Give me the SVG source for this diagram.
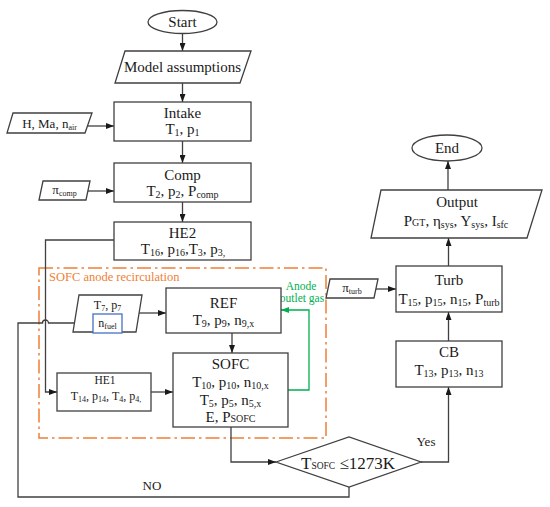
<svg xmlns="http://www.w3.org/2000/svg" width="550" height="507" viewBox="0 0 550 507">
<defs>
<style>
text{font-family:'Liberation Serif','Times New Roman',Tinos,'DejaVu Serif','Noto Serif',serif}
.t{fill:#1a1a1a;text-anchor:middle}
.f15{font-size:15px}
.f13{font-size:13px}
.f12{font-size:12px}
.s10{font-size:10px}
.s8{font-size:8px}
.box{fill:#fff;stroke:#404040;stroke-width:1.3}
.ln{fill:none;stroke:#404040;stroke-width:1.3}
.gr{fill:none;stroke:#00B050;stroke-width:1.3}
</style>
<marker id="ar" viewBox="0 0 8 6" refX="8" refY="3" markerWidth="8" markerHeight="6" markerUnits="userSpaceOnUse" orient="auto"><path d="M0,0 L8,3 L0,6 Z" fill="#1a1a1a"/></marker>
<marker id="ag" viewBox="0 0 8 6" refX="8" refY="3" markerWidth="8" markerHeight="6" markerUnits="userSpaceOnUse" orient="auto"><path d="M0,0 L8,3 L0,6 Z" fill="#00B050"/></marker>
</defs>
<rect width="550" height="507" fill="#fff"/>

<g id="recirc">
<rect x="39" y="268" width="287" height="170" fill="none" stroke="#F07F35" stroke-width="1.5" stroke-dasharray="14 4 2.5 4"/>
<text x="49" y="281" font-size="12.5" fill="#F07F35">SOFC anode recirculation</text>
</g>

<g id="connectors">
<path class="ln" d="M182.5,33.5 V51" marker-end="url(#ar)"/>
<path class="ln" d="M182.5,83 V102" marker-end="url(#ar)"/>
<path class="ln" d="M182.5,141 V163" marker-end="url(#ar)"/>
<path class="ln" d="M182.5,202 V222" marker-end="url(#ar)"/>
<path class="ln" d="M88,126 H114" marker-end="url(#ar)"/>
<path class="ln" d="M88,191 H114" marker-end="url(#ar)"/>
<path class="ln" d="M114,240 H45.5 V392 H57" marker-end="url(#ar)"/>
<path class="ln" d="M139,313 H166" marker-end="url(#ar)"/>
<path class="ln" d="M232,333 V353" marker-end="url(#ar)"/>
<path class="ln" d="M151,392 H173" marker-end="url(#ar)"/>
<path class="gr" d="M288,390 H309 V310 H281" marker-end="url(#ag)"/>
<path class="ln" d="M231,427 V462 H276" marker-end="url(#ar)"/>
<path class="ln" d="M421,462 H448.5 V387" marker-end="url(#ar)"/>
<path class="ln" d="M448.5,341 V312" marker-end="url(#ar)"/>
<path class="ln" d="M375,289 H396" marker-end="url(#ar)"/>
<path class="ln" d="M448.5,266 V238" marker-end="url(#ar)"/>
<path class="ln" d="M448,190 V161" marker-end="url(#ar)"/>
<path class="ln" d="M349,487 V497 H18 V323 H42.5 A3,3 0 0 1 48.5,323 H93" marker-end="url(#ar)"/>
<text class="t f13" x="152" y="490">NO</text>
<text class="t f13" x="426" y="446">Yes</text>
<text x="301" y="290" font-size="11.5" fill="#00B050" text-anchor="middle">Anode</text>
<text x="302" y="302" font-size="11.5" fill="#00B050" text-anchor="middle">outlet gas</text>
</g>

<g id="start">
<ellipse cx="182.5" cy="22" rx="34.5" ry="11.5" class="box"/>
<text class="t f15" x="182.5" y="27">Start</text>
</g>

<g id="model">
<polygon class="box" points="125,51 251,51 240,83 115,83"/>
<text class="t f15" x="182.5" y="72">Model assumptions</text>
</g>

<g id="intake">
<rect class="box" x="114" y="102" width="137" height="39"/>
<text class="t f15" x="182.5" y="118">Intake</text>
<text class="t f15" x="182.5" y="134">T<tspan class="s10" dy="2">1</tspan><tspan dy="-2">, p</tspan><tspan class="s10" dy="2">1</tspan></text>
</g>

<g id="hma">
<polygon class="box" points="13,113 92,113 85,133 7,133"/>
<text class="t f13" x="49.5" y="128">H, Ma, n<tspan class="s8" dy="2">air</tspan></text>
</g>

<g id="comp">
<rect class="box" x="114" y="163" width="137" height="39"/>
<text class="t f15" x="182.5" y="180">Comp</text>
<text class="t f15" x="182.5" y="196">T<tspan class="s10" dy="2">2</tspan><tspan dy="-2">, p</tspan><tspan class="s10" dy="2">2</tspan><tspan dy="-2">, P</tspan><tspan class="s10" dy="2">comp</tspan></text>
</g>

<g id="picomp">
<polygon class="box" points="43,181 90,181 86,200 39,200"/>
<text class="t f13" x="64.5" y="194">π<tspan class="s8" dy="2">comp</tspan></text>
</g>

<g id="he2">
<rect class="box" x="114" y="222" width="137" height="38"/>
<text class="t f15" x="182.5" y="238">HE2</text>
<text class="t f15" x="183" y="254">T<tspan class="s10" dy="2">16</tspan><tspan dy="-2">, p</tspan><tspan class="s10" dy="2">16</tspan><tspan dy="-2">,T</tspan><tspan class="s10" dy="2">3</tspan><tspan dy="-2">, p</tspan><tspan class="s10" dy="2">3,</tspan></text>
</g>

<g id="fuel">
<polygon class="box" points="79,295 142,295 136,332 73,332"/>
<rect x="93" y="314" width="29" height="19" fill="#fff" stroke="#4472C4" stroke-width="1.3"/>
<text class="t f12" x="107.5" y="309">T<tspan class="s8" dy="2">7</tspan><tspan dy="-2">, p</tspan><tspan class="s8" dy="2">7</tspan></text>
<text class="t f12" x="107.5" y="327">n<tspan class="s8" dy="2">fuel</tspan></text>
</g>

<g id="ref">
<rect class="box" x="166" y="288" width="115" height="45"/>
<text class="t f15" x="223.5" y="308">REF</text>
<text class="t f15" x="223.5" y="325">T<tspan class="s10" dy="2">9</tspan><tspan dy="-2">, p</tspan><tspan class="s10" dy="2">9</tspan><tspan dy="-2">, n</tspan><tspan class="s10" dy="2">9,x</tspan></text>
</g>

<g id="sofc">
<rect class="box" x="173" y="353" width="115" height="74"/>
<text class="t f15" x="230.5" y="369">SOFC</text>
<text class="t f15" x="230.5" y="387">T<tspan class="s10" dy="2">10</tspan><tspan dy="-2">, p</tspan><tspan class="s10" dy="2">10</tspan><tspan dy="-2">, n</tspan><tspan class="s10" dy="2">10,x</tspan></text>
<text class="t f15" x="230.5" y="405">T<tspan class="s10" dy="2">5</tspan><tspan dy="-2">, p</tspan><tspan class="s10" dy="2">5</tspan><tspan dy="-2">, n</tspan><tspan class="s10" dy="2">5,x</tspan></text>
<text class="t f15" x="230.5" y="422">E, P<tspan class="s10">SOFC</tspan></text>
</g>

<g id="he1">
<rect class="box" x="57" y="373" width="94" height="38"/>
<text class="t" x="105" y="384" font-size="11.5">HE1</text>
<text class="t f12" x="106" y="400">T<tspan class="s8" dy="2">14</tspan><tspan dy="-2">, p</tspan><tspan class="s8" dy="2">14</tspan><tspan dy="-2">, T</tspan><tspan class="s8" dy="2">4</tspan><tspan dy="-2">, p</tspan><tspan class="s8" dy="2">4,</tspan></text>
</g>

<g id="decision">
<polygon class="box" points="276,462 349,437 421,462 349,487"/>
<text class="t" x="348" y="469" font-size="17">T<tspan font-size="9.5">SOFC</tspan> ≤1273K</text>
</g>

<g id="cb">
<rect class="box" x="396" y="341" width="106" height="46"/>
<text class="t f15" x="449" y="357">CB</text>
<text class="t f15" x="449" y="375">T<tspan class="s10" dy="2">13</tspan><tspan dy="-2">, p</tspan><tspan class="s10" dy="2">13</tspan><tspan dy="-2">, n</tspan><tspan class="s10" dy="2">13</tspan></text>
</g>

<g id="turb">
<rect class="box" x="396" y="266" width="106" height="46"/>
<text class="t f15" x="449" y="285">Turb</text>
<text class="t f15" x="449" y="304">T<tspan class="s10" dy="2">15</tspan><tspan dy="-2">, p</tspan><tspan class="s10" dy="2">15</tspan><tspan dy="-2">, n</tspan><tspan class="s10" dy="2">15</tspan><tspan dy="-2">, P</tspan><tspan class="s10" dy="2">turb</tspan></text>
</g>

<g id="piturb">
<polygon class="box" points="330,279 378,279 374,298 326,298"/>
<text class="t f13" x="352" y="292">π<tspan class="s8" dy="2">turb</tspan></text>
</g>

<g id="output">
<polygon class="box" points="381,190 542,190 527,238 371,238"/>
<text class="t f15" x="457" y="207">Output</text>
<text class="t f15" x="456" y="226">P<tspan class="s10">GT</tspan>, η<tspan class="s10" dy="2">sys</tspan><tspan dy="-2">, Y</tspan><tspan class="s10" dy="2">sys</tspan><tspan dy="-2">, I</tspan><tspan class="s10" dy="2">sfc</tspan></text>
</g>

<g id="end">
<ellipse cx="447" cy="148" rx="35" ry="13" class="box"/>
<text class="t f15" x="447" y="153">End</text>
</g>
</svg>
